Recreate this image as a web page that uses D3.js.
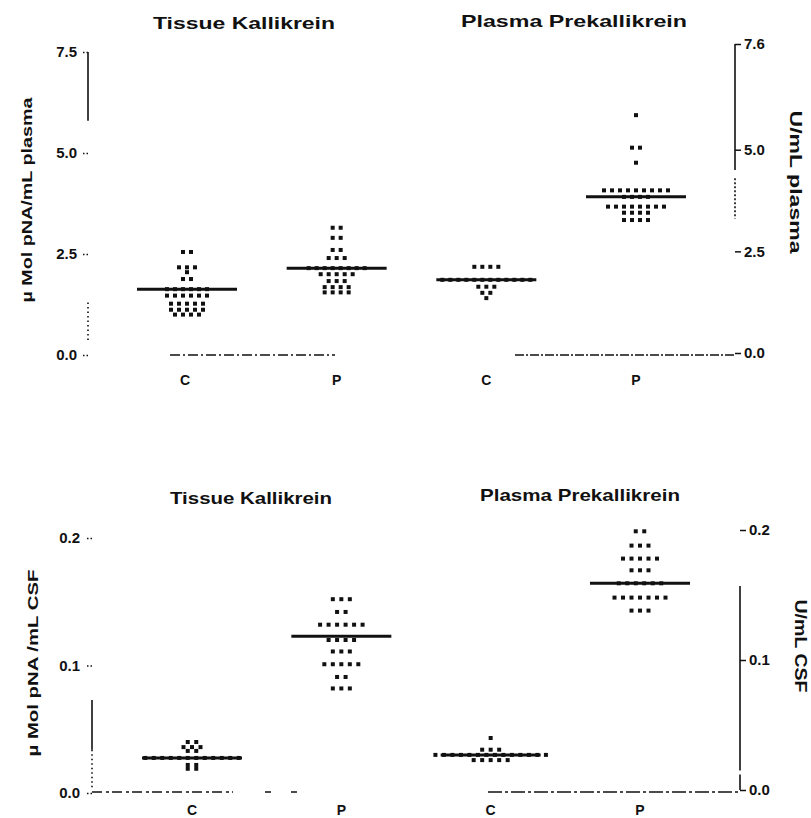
<!DOCTYPE html>
<html>
<head>
<meta charset="utf-8">
<script src="https://cdn.jsdelivr.net/npm/d3@7"></script>
<style>
  body { margin: 0; background: #fff; }
  text { font-family: "Liberation Sans", Arial, sans-serif; font-weight: bold; fill: #111; }
</style>
</head>
<body>
<div id="chart"></div>
<script>
const W = 811, H = 818;

// groups along x, same order in both panels
const groups = ["TK-C", "TK-P", "PK-C", "PK-P"];
const xTickLabels = ["C", "P", "C", "P"];

// plasma panel (top) - tissue kallikrein on left axis, prekallikrein on right axis
const tkPlasmaC = [2.55, 2.55, 2.17, 2.17, 2.17, 2.05, 1.88, 1.88,
  1.63, 1.63, 1.63, 1.63, 1.63, 1.63,
  1.47, 1.47, 1.47, 1.47, 1.47, 1.47,
  1.27, 1.27, 1.27, 1.27, 1.27,
  1.12, 1.12, 1.12, 1.12, 1.12,
  1.0, 1.0, 1.0, 1.0];
const tkPlasmaP = [3.15, 3.15, 2.9, 2.9, 2.6, 2.6, 2.4, 2.4, 2.4,
  2.15, 2.15, 2.15, 2.15, 2.15, 2.15, 2.15, 2.15,
  2.0, 2.0, 2.0, 2.0, 2.0,
  1.83, 1.83, 1.83,
  1.68, 1.68, 1.68, 1.68,
  1.55, 1.55, 1.55, 1.55];
const pkPlasmaC = [2.12, 2.12, 2.12, 2.12,
  1.8, 1.8, 1.8, 1.8, 1.8, 1.8, 1.8, 1.8, 1.8, 1.8, 1.8, 1.8,
  1.63, 1.63, 1.63, 1.48, 1.48, 1.35];
const pkPlasmaP = [5.85, 5.05, 5.05, 4.68,
  4.0, 4.0, 4.0, 4.0, 4.0, 4.0, 4.0, 4.0, 4.0,
  3.84, 3.84, 3.84, 3.84,
  3.6, 3.6, 3.6, 3.6, 3.6, 3.6, 3.6, 3.6,
  3.45, 3.45, 3.45, 3.45,
  3.27, 3.27, 3.27, 3.27];
const plasmaMedians = [1.63, 2.15, 1.8, 3.84];
const plasmaLeftTicks = [0, 2.5, 5.0, 7.5];
const plasmaRightTicks = [0, 2.5, 5.0, 7.6];

// CSF panel (bottom)
const tkCsfC = [0.040, 0.040, 0.036, 0.036, 0.036, 0.033, 0.033,
  0.0275, 0.0275, 0.0275, 0.0275, 0.0275, 0.0275, 0.0275, 0.0275, 0.0275, 0.0275, 0.0275, 0.0275,
  0.022, 0.022, 0.019, 0.019];
const tkCsfP = [0.152, 0.152, 0.152, 0.142, 0.142,
  0.132, 0.132, 0.132, 0.132, 0.132, 0.132,
  0.12, 0.12, 0.12, 0.12,
  0.111, 0.111, 0.111,
  0.101, 0.101, 0.101, 0.101, 0.101,
  0.091, 0.091, 0.082, 0.082, 0.082];
const pkCsfC = [0.04, 0.031, 0.031, 0.031,
  0.027, 0.027, 0.027, 0.027, 0.027, 0.027, 0.027, 0.027, 0.027, 0.027, 0.027, 0.027, 0.027, 0.027,
  0.023, 0.023, 0.023, 0.023, 0.023];
const pkCsfP = [0.199, 0.199, 0.188, 0.188, 0.188,
  0.178, 0.178, 0.178, 0.178, 0.178,
  0.169, 0.169, 0.169,
  0.159, 0.159, 0.159, 0.159, 0.159, 0.159,
  0.148, 0.148, 0.148, 0.148, 0.148, 0.148, 0.148,
  0.138, 0.138, 0.138];
const csfMedians = [0.0275, 0.123, 0.027, 0.159];
const csfLeftTicks = [0, 0.1, 0.2];
const csfRightTicks = [0, 0.1, 0.2];

const svg = d3.select("#chart").append("svg")
  .attr("width", W).attr("height", H);

function seg(g, x1, y1, x2, y2, w, dash) {
  g.append("line")
    .attr("x1", x1).attr("y1", y1).attr("x2", x2).attr("y2", y2)
    .attr("stroke", "#111").attr("stroke-width", w || 1.5)
    .attr("stroke-dasharray", dash || null);
}

function drawPanel(p) {
  const g = svg.append("g");
  const x = d3.scalePoint().domain(groups).range(p.xRange);

  // titles
  p.titles.forEach(t => {
    g.append("text").attr("x", t.x).attr("y", t.y)
      .attr("text-anchor", "middle").attr("font-size", 17)
      .attr("textLength", t.len).attr("lengthAdjust", "spacingAndGlyphs")
      .text(t.text);
  });

  // left axis
  const la = g.append("g").attr("transform", `translate(${p.leftX},0)`)
    .call(d3.axisLeft(p.yL).tickValues(p.leftTicks).tickFormat(d3.format(".1f"))
      .tickSize(5).tickPadding(p.leftPad));
  la.select(".domain").remove();
  la.selectAll(".tick line").attr("stroke", "#111").attr("stroke-width", 1.5).attr("stroke-dasharray", "1.5,2");
  la.selectAll(".tick text").attr("font-size", 15).attr("font-family", "Liberation Sans, Arial").attr("font-weight", "bold").attr("fill", "#111");
  p.leftSegs.forEach(s => seg(g, p.leftX, p.yL(s[0]), p.leftX, p.yL(s[1]), 1.6, s[2]));

  // right axis
  const ra = g.append("g").attr("transform", `translate(${p.rightX},0)`)
    .call(d3.axisRight(p.yR).tickValues(p.rightTicks).tickFormat(d3.format(".1f"))
      .tickSize(6).tickPadding(3));
  ra.select(".domain").remove();
  ra.selectAll(".tick line").attr("stroke", "#111").attr("stroke-width", 1.5);
  ra.selectAll(".tick text").attr("font-size", 15).attr("font-family", "Liberation Sans, Arial").attr("font-weight", "bold").attr("fill", "#111");
  p.rightSegs.forEach(s => seg(g, p.rightX, p.yR(s[0]), p.rightX, p.yR(s[1]), 1.6, s[2]));

  // baseline
  p.baseSegs.forEach(s => seg(g, s[0], p.baseY, s[1], p.baseY, 1.6, s[2]));

  // x tick labels
  groups.forEach((grp, i) => {
    g.append("text").attr("x", x(grp) + p.labelShift[i]).attr("y", p.labelY)
      .attr("text-anchor", "middle").attr("font-size", 14).text(xTickLabels[i]);
  });

  // axis titles
  g.append("text").attr("transform", `translate(${p.leftLabel.x},${p.leftLabel.y}) rotate(-90)`)
    .attr("text-anchor", "middle").attr("font-size", 15)
    .attr("textLength", p.leftLabel.len).attr("lengthAdjust", "spacingAndGlyphs")
    .text(p.leftLabel.text);
  g.append("text").attr("transform", `translate(${p.rightLabel.x},${p.rightLabel.y}) rotate(90)`)
    .attr("text-anchor", "middle").attr("font-size", 16)
    .attr("textLength", p.rightLabel.len).attr("lengthAdjust", "spacingAndGlyphs")
    .text(p.rightLabel.text);

  // dots and medians
  p.series.forEach((vals, i) => {
    const y = i < 2 ? p.yL : p.yR;
    const cx = x(groups[i]);
    const rows = d3.rollups(vals, v => v.length, d => d);
    const pts = [];
    rows.forEach(([v, n]) => {
      for (let k = 0; k < n; k++) pts.push({ x: cx + (k - (n - 1) / 2) * p.spacing, y: y(v) });
    });
    g.append("g").selectAll("rect").data(pts).enter().append("rect")
      .attr("x", d => d.x - 2).attr("y", d => d.y - 2)
      .attr("width", 4).attr("height", 4).attr("fill", "#111");
    g.append("line")
      .attr("x1", cx - 50).attr("x2", cx + 50)
      .attr("y1", y(p.medians[i])).attr("y2", y(p.medians[i]))
      .attr("stroke", "#111").attr("stroke-width", 3);
  });
}

// top: plasma
drawPanel({
  xRange: [187, 636],
  yL: d3.scaleLinear().domain([0, 7.5]).range([355, 52]),
  yR: d3.scaleLinear().domain([0, 7.6]).range([353, 44]),
  leftX: 88, rightX: 735, leftPad: 6, baseY: 355, labelY: 385,
  labelShift: [-2, 0, 0, 0],
  leftTicks: plasmaLeftTicks, rightTicks: plasmaRightTicks,
  leftSegs: [[7.5, 5.8, null], [1.3, 0.35, "1.5,3"]],
  rightSegs: [[7.6, 4.5, null], [4.3, 3.3, "2,2"]],
  baseSegs: [[170, 335, "10,3,2,3"], [515, 735, "9,2,2,2"]],
  titles: [
    { text: "Tissue  Kallikrein", x: 244, y: 29, len: 182 },
    { text: "Plasma  Prekallikrein", x: 574, y: 27, len: 226 }
  ],
  leftLabel: { text: "µ Mol pNA/mL plasma", x: 32, y: 200, len: 205 },
  rightLabel: { text: "U/mL plasma", x: 790, y: 182, len: 143 },
  series: [tkPlasmaC, tkPlasmaP, pkPlasmaC, pkPlasmaP],
  medians: plasmaMedians,
  spacing: 8
});

// bottom: CSF
drawPanel({
  xRange: [192, 640],
  yL: d3.scaleLinear().domain([0, 0.2]).range([793, 538]),
  yR: d3.scaleLinear().domain([0, 0.2]).range([790, 530]),
  leftX: 92, rightX: 740, leftPad: 7, baseY: 792, labelY: 815,
  labelShift: [0, 0, 0, 0],
  leftTicks: csfLeftTicks, rightTicks: csfRightTicks,
  leftSegs: [[0.073, 0.034, null], [0.034, 0.003, "1.5,3"]],
  rightSegs: [[0.157, 0.015, null], [0.012, 0, null]],
  baseSegs: [[92, 233, "10,4,3,3"], [265, 300, "6,20"], [488, 740, "14,3,3,3"]],
  titles: [
    { text: "Tissue Kallikrein", x: 251, y: 504, len: 162 },
    { text: "Plasma Prekallikrein", x: 580, y: 501, len: 200 }
  ],
  leftLabel: { text: "µ Mol pNA /mL CSF", x: 38, y: 663, len: 187 },
  rightLabel: { text: "U/mL CSF", x: 795, y: 646, len: 93 },
  series: [tkCsfC, tkCsfP, pkCsfC, pkCsfP],
  medians: csfMedians,
  spacing: 8.5
});
</script>
</body>
</html>
